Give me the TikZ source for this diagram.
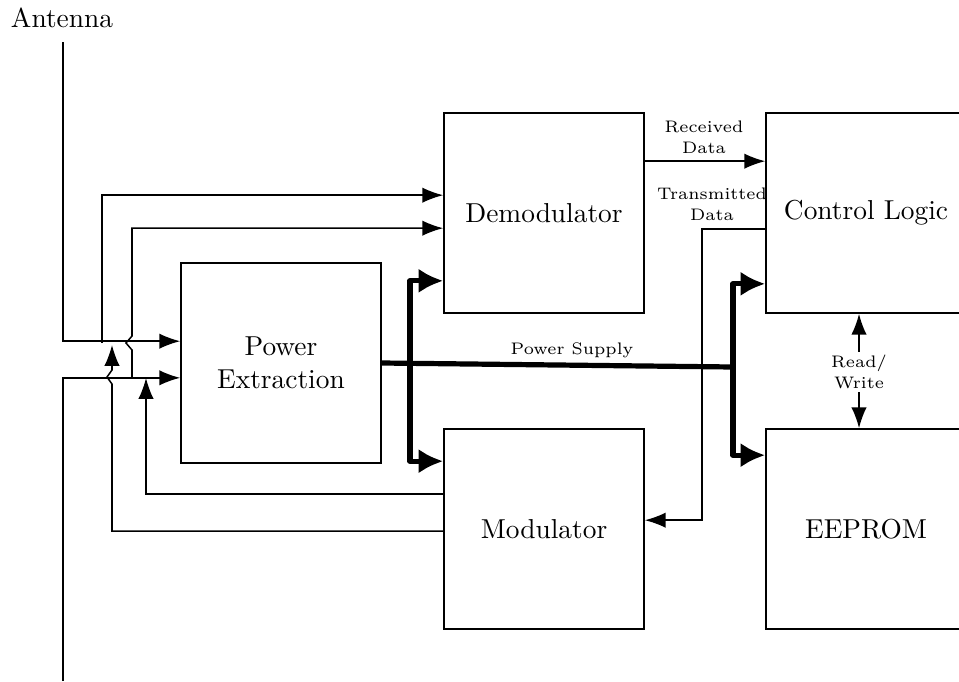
\documentclass[tikz,border=0pt]{standalone}
\usetikzlibrary{arrows.meta,calc}
\begin{document}
\begin{tikzpicture}[x=0.365pt,y=-0.365pt,
  box/.style={draw,line width=0.6pt,minimum width=73pt,minimum height=73pt,
              inner sep=0pt,align=center,font=\normalsize},
  wire/.style={line width=0.55pt},
  tip/.style={-{Latex[length=7.6pt,width=5.6pt]}},
  bus/.style={line width=1.9pt,line join=round},
  bustip/.style={-{Latex[length=9pt,width=9pt]}},
  lbl/.style={font=\fontsize{6.1pt}{7.6pt}\selectfont,align=center,inner sep=1pt}]
\useasboundingbox (0,0) rectangle (959,681);

% functional blocks
\node[box] (pwr) at (281,363) {Power\\Extraction};
\node[box] (dem) at (544,213) {Demodulator};
\node[box] (mod) at (544,529) {Modulator};
\node[box] (ctl) at (866,213) {Control Logic};
\node[box] (eep) at (866,529) {EEPROM};

% antenna terminals
\node (ant) at (62,18) {Antenna};
\coordinate (antTop) at (63,42);
\coordinate (antBot) at (63,681);
\coordinate (jTop) at (102,343);
\coordinate (jBot) at (132,377);
\coordinate (fbA) at (146,378);
\coordinate (bmp) at (112,384);
\coordinate (fbB) at (112,345);

% antenna feeds into power extraction and demodulator
\draw[wire,tip] (antTop) |- ($(pwr.north west)+(0,79)$);
\draw[wire,tip] (antBot) |- ($(pwr.south west)+(0,-86)$);
\draw[wire,tip] (jTop) |- ($(dem.north west)+(0,83)$);
\draw[wire,tip] (jBot) -- ++(0,-27) -- ++(-6,-7) -- ++(6,-7)
      |- ($(dem.north west)+(0,116)$);

% modulator drives the antenna
\draw[wire,tip] ($(mod.north west)+(0,66)$) -| (fbA);
\draw[wire,tip] ($(mod.north west)+(0,103)$) -| (bmp)
      -- ++(-5,-7) -- ++(5,-7) -- (fbB);

% power supply bus
\coordinate (pL) at (410,363.3);
\coordinate (pR) at (733,367);
\draw[bus] (pwr.east) -- (pR);
\node[lbl] (ps) at (572,350) {Power Supply};
\draw[bus,bustip] (pL) |- ($(dem.south west)+(0,-33)$);
\draw[bus,bustip] (pL) |- ($(mod.north west)+(0,33)$);
\draw[bus,bustip] (pR) |- ($(ctl.south west)+(0,-30)$);
\draw[bus,bustip] (pR) |- ($(eep.north west)+(0,27)$);

% data paths
\draw[wire,tip] ($(dem.north east)+(0,49)$) -- ($(ctl.north west)+(0,49)$);
\node[lbl] (rx) at (704,137) {Received\\Data};
\draw[wire,tip] ($(ctl.north west)+(0,117)$) -- ++(-63,0)
      |- ($(mod.north east)+(0,92)$);
\node[lbl] (tx) at (712,204) {Transmitted\\Data};

% memory access
\node[lbl] (rw) at (859,372) {Read/\\Write};
\draw[wire,tip] (rw) -- (rw |- ctl.south);
\draw[wire,tip] (rw) -- (rw |- eep.north);
\end{tikzpicture}
\end{document}
